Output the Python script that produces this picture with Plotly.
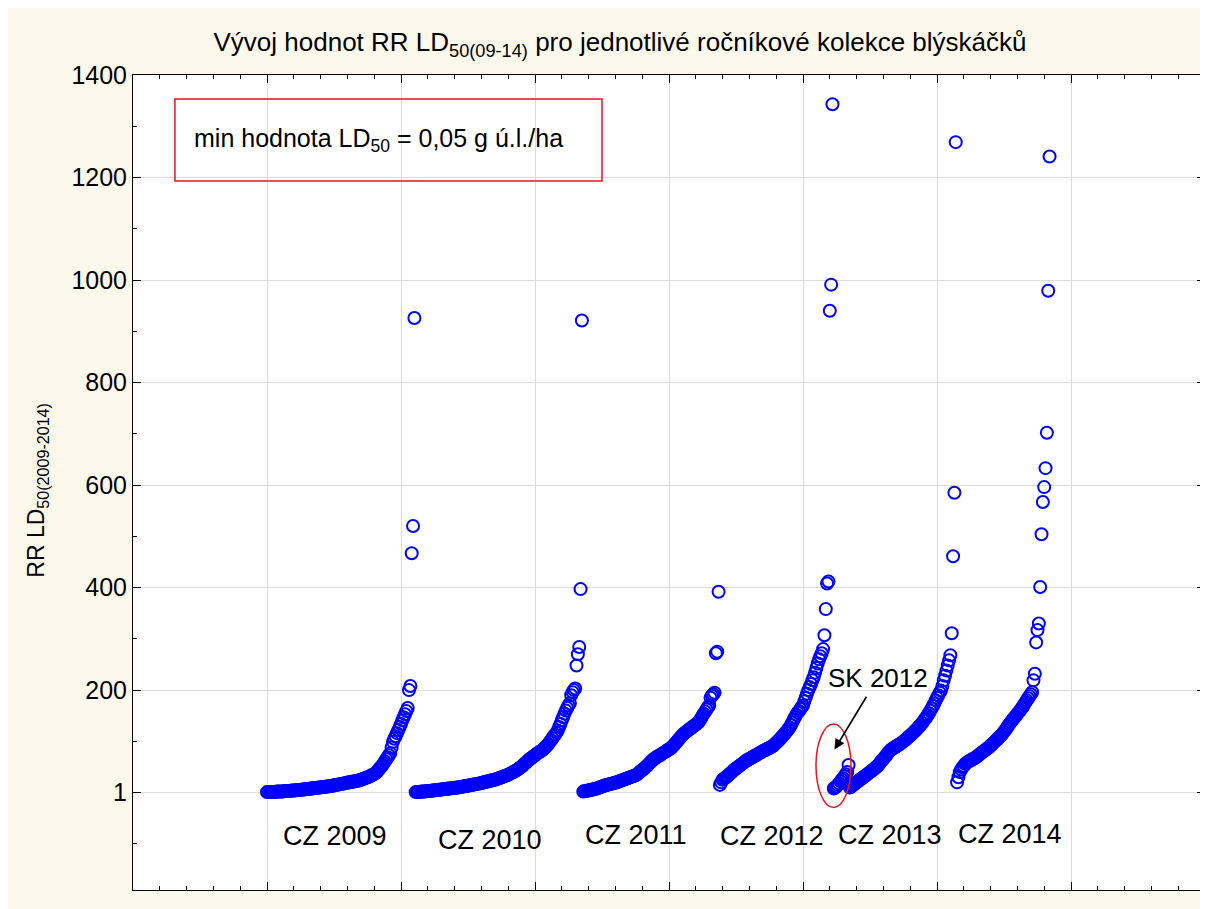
import plotly.graph_objects as go

# ---- data: RR LD50 values, sorted within each collection ----
group_names = ["CZ 2009", "CZ 2010", "CZ 2011", "CZ 2012", "SK 2012", "CZ 2013", "CZ 2014"]

cz2009 = [1,1,1,1,1,1,1,2,2,2, 2,2,2,3,3,3,3,3,4,4, 4,4,5,5,5,5,6,6,6,7,
          7,7,8,8,8,9,9,9,10,10, 10,11,11,11,12,12,
          12,13,13,14,14,15,15,16,16,17, 17,18,18,19,19,20,20,21,21,22, 22,23,23,24,
          25,26,27,28,29,30,31,32,34,35,36,38,40,
          44,47,50,53,57, 61,65,69,73,77, 88,99,
          105,110,116,122, 128,134,141, 147,153,159,165,
          200,208,467,520,926]

cz2010 = [1,1,1,1,2,2,2,2,3,3, 3,3,4,4,4,5,5,5,6,6, 6,7,7,7,8,8,8,9,9,9,
          10,10,10,11,11,12,12,13,13,14,
          14,15,15,16,16,17,17,18,18,19, 19,20,21,21,22,23,23,24,25,25, 26,27,28,29,30,
          31,32,33,34,35,36,38,39,40,42,43,45,47,
          49,51,53,56,58,60,63,
          65,67,69,71,73,75,77,79,80,82,
          84,87,89,92,95,
          99,102,106,110,113,117,121,
          128,134,141,147,154,
          160,165,170,174,
          190,196,200,203,
          248,270,284,397,921]

cz2011 = [2,3,3,4,4,5,5,6,7,7, 8,9,10,11,12,13,14,
          15,15,16,17,17,18,19,19,20,21,22,23,
          24,25,26,27,28,29,30,31,32,33,34,35,37,
          40,42,44,46,48,51,53,56,
          59,61,64,66,
          68,70,71,73,74,76,78,79,81,83,84,86,88,
          91,94,97,100,103,106,109,112,115,
          117,119,121,123,125,127,129,131,133,135,137,
          141,145,150,154,
          158,162,166,170,
          185,189,192,195,
          272,275,392]

cz2012 = [15,20,
          25,27,29,31,33,36,38,40,43,
          45,47,49,51,53,55,57,59,61,63,
          64,66,67,69,70,72,73,75,76,
          78,79,81,82,83,85,86,87,89,90,92,
          95,97,100,102,105,108,
          111,114,117,120,124,127,
          132,137,142,147,
          152,156,159,163,167,170,
          178,185,193,200,
          206,212,219,225,
          234,243,252,
          260,266,272,
          280,307,358,408,412,940,991,1343]

sk2012 = [8,10,12,15,18,22,25,28,32,36,40,54]

cz2013 = [10,12,14,16,18,20,22,24,26,28,30,
          32,34,36,38,40,42,44,46,48,51,53,56,
          60,63,66,69,72,76,79,82,
          84,86,88,89,91,93,94,96,98,
          100,102,104,107,109,111,114,116,119,121,
          124,127,130,133,136,140,143,147,
          151,155,160,164,169,174,
          180,185,190,195,199,
          208,219,228,238,248,258,268,311,461,585,1269]

cz2014 = [20,30,
          40,45,49,52,56,
          58,60,61,63,64,66,67,69,
          71,73,75,77,79,81,83,85,87,89,
          92,94,97,99,102,104,107,110,112,115,
          119,122,126,130,134,137,141,
          144,147,150,154,157,160,164,167,
          172,176,180,184,188,192,196,
          219,232,293,317,330,401,504,567,596,633,702,979,1241]

groups = [cz2009, cz2010, cz2011, cz2012, sk2012, cz2013, cz2014]
first_sample_no = 100  # sample numbering of first specimen

y_tick_vals = [1, 200, 400, 600, 800, 1000, 1200, 1400]
y_tick_text = ["1", "200", "400", "600", "800", "1000", "1200", "1400"]

# ---- build x (sample order) and y ----
xs, ys = [], []
n = first_sample_no
for g in groups:
    for v in g:
        xs.append(n)
        ys.append(v)
        n += 1

FONT = "Arial, Liberation Sans, sans-serif"
RED = "#E8141B"
fig = go.Figure()
fig.add_trace(go.Scatter(
    x=xs, y=ys, mode="markers",
    marker=dict(symbol="circle-open", size=12, color="#0000FF",
                line=dict(width=2, color="#0000FF")),
    showlegend=False, hoverinfo="x+y"))

# collection labels
label_pos = [(150.7, -85), (266.4, -93), (375.4, -83), (476.9, -85), None, (564.9, -82), (654.5, -80)]
for name, pos in zip(group_names, label_pos):
    if pos is None:
        continue
    fig.add_annotation(x=pos[0], y=pos[1], text=name, showarrow=False,
                       font=dict(family=FONT, size=27, color="black"))

# SK 2012 annotation with arrow
fig.add_annotation(x=523.5, y=84, ax=548, ay=190, axref="x", ayref="y",
                   xref="x", yref="y", text="", showarrow=True,
                   arrowhead=2, arrowsize=1.3, arrowwidth=1.6, arrowcolor="black")
fig.add_annotation(x=556, y=223, text="SK 2012", showarrow=False,
                   font=dict(family=FONT, size=26, color="black"))
fig.add_shape(type="circle", xref="x", yref="y", x0=509.7, x1=535.8, y0=-29, y1=134,
              line=dict(color=RED, width=1.5))

# min value box
fig.add_shape(type="rect", xref="x", yref="y", x0=31.3, x1=350, y0=1193, y1=1353,
              line=dict(color=RED, width=1.5), fillcolor="rgba(0,0,0,0)")
fig.add_annotation(x=44, y=1273, xanchor="left", text="min hodnota LD<sub>50</sub> = 0,05 g ú.l./ha",
                   showarrow=False, font=dict(family=FONT, size=25, color="black"))

# y-axis title
fig.add_annotation(xref="paper", yref="paper", x=-0.0886, y=0.49, textangle=-90,
                   xanchor="center", yanchor="middle",
                   text="RR LD<sub>50(2009-2014)</sub>", showarrow=False,
                   font=dict(family=FONT, size=23, color="black"))

fig.update_layout(
    width=1200, height=901,
    margin=dict(l=125, r=3, t=67, b=19),
    paper_bgcolor="#FDF8EC", plot_bgcolor="white",
    title=dict(text="Vývoj hodnot RR LD<sub>50(09-14)</sub> pro jednotlivé ročníkové kolekce blýskáčků",
               x=0.51, xanchor="center", y=0.962, yanchor="middle",
               font=dict(family=FONT, size=26, color="black")),
    font=dict(family=FONT, color="black"),
)
fig.update_xaxes(range=[0, 800], tickmode="array", tickvals=list(range(0, 801, 100)),
                 showticklabels=False, ticks="inside", ticklen=8, tickcolor="black",
                 showgrid=True, gridcolor="#DDDDDD", gridwidth=1, zeroline=False,
                 showline=True, linecolor="black", linewidth=1, mirror="ticks",
                 minor=dict(ticks="inside", ticklen=4, tickcolor="black", dtick=20, tick0=0, showgrid=False))
fig.update_yaxes(range=[-190, 1400], tickmode="array", tickvals=y_tick_vals, ticktext=y_tick_text,
                 ticks="inside", ticklen=8, tickcolor="black",
                 tickfont=dict(family=FONT, size=25, color="black"),
                 showgrid=True, gridcolor="#DDDDDD", gridwidth=1, zeroline=False,
                 showline=True, linecolor="black", linewidth=1, mirror="ticks",
                 minor=dict(ticks="inside", ticklen=4, tickcolor="black",
                            tickvals=list(range(-100, 1400, 200)), showgrid=False))

fig.write_html("out.html")
